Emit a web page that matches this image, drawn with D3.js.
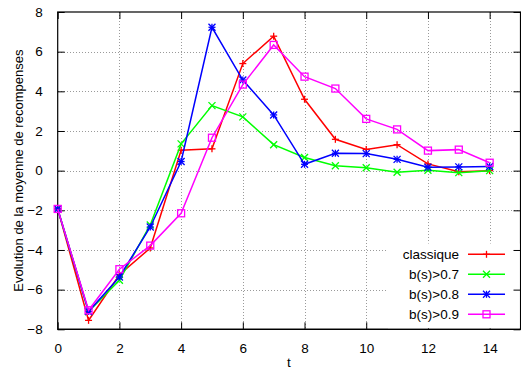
<!DOCTYPE html>
<html>
<head>
<meta charset="utf-8">
<script src="https://cdn.jsdelivr.net/npm/d3@7"></script>
<style>
  html, body { margin: 0; padding: 0; background: #fff; }
  svg { display: block; font-family: "Liberation Sans", Arial, Helvetica, sans-serif; }
</style>
</head>
<body>
<svg id="chart" width="521" height="369"></svg>
<script>
// Time steps
const steps = [0, 1, 2, 3, 4, 5, 6, 7, 8, 9, 10, 11, 12, 13, 14];

// Mean reward per step for each selection rule
const classique = [-1.93, -7.55, -5.25, -3.9, 1.03, 1.1, 5.4, 6.78, 3.6, 1.58, 1.07, 1.31, 0.34, -0.05, 0.0];
const b07 = [-1.93, -7.1, -5.53, -2.74, 1.35, 3.28, 2.71, 1.31, 0.66, 0.25, 0.15, -0.08, 0.02, -0.1, 0.0];
const b08 = [-1.93, -7.1, -5.36, -2.84, 0.46, 7.23, 4.57, 2.81, 0.32, 0.88, 0.86, 0.57, 0.17, 0.19, 0.21];
const b09 = [-1.93, -7.04, -4.97, -3.78, -2.15, 1.66, 4.34, 6.34, 4.74, 4.14, 2.61, 2.08, 1.01, 1.06, 0.4];

const seriesNames = ["classique", "b(s)>0.7", "b(s)>0.8", "b(s)>0.9"];
const seriesColors = ["#ff0000", "#00ff00", "#0000ff", "#ff00ff"];
const seriesMarkers = ["plus", "cross", "star", "square"];
const seriesValues = [classique, b07, b08, b09];

const xTicks = [0, 2, 4, 6, 8, 10, 12, 14];
const yTicks = [-8, -6, -4, -2, 0, 2, 4, 6, 8];

const svg = d3.select("#chart");
const plotLeft = 57.7, plotRight = 520.5, plotTop = 12, plotBottom = 329.3;

const x = d3.scaleLinear().domain([0, 15]).range([plotLeft, plotRight]);
const y = d3.scaleLinear().domain([-8, 8]).range([plotBottom, plotTop]);

// Legend area (grid is hidden behind it)
const legendBox = { x0: 388, y0: 243.5, x1: plotRight, y1: plotBottom };

// Grid
const grid = svg.append("g")
  .attr("stroke", "#9a9a9a").attr("stroke-width", 1)
  .attr("stroke-dasharray", "1,2").attr("shape-rendering", "crispEdges");
xTicks.filter(t => t > 0).forEach(t => {
  const px = Math.round(x(t)) + 0.5;
  const inLegend = px > legendBox.x0;
  grid.append("line").attr("x1", px).attr("x2", px)
    .attr("y1", plotTop).attr("y2", inLegend ? legendBox.y0 : plotBottom);
});
yTicks.filter(t => t > -8 && t < 8).forEach(t => {
  const py = Math.round(y(t)) + 0.5;
  const inLegend = py > legendBox.y0;
  grid.append("line").attr("y1", py).attr("y2", py)
    .attr("x1", plotLeft).attr("x2", inLegend ? legendBox.x0 : plotRight);
});

// Axes with inward ticks, mirrored on the opposite sides
const tickLen = 7;
const axisBottom = d3.axisBottom(x).tickValues(xTicks).tickSizeInner(-tickLen).tickSizeOuter(0).tickPadding(14);
const axisTop = d3.axisTop(x).tickValues(xTicks).tickSizeInner(-tickLen).tickSizeOuter(0).tickFormat("");
const axisLeft = d3.axisLeft(y).tickValues(yTicks).tickSizeInner(-tickLen).tickSizeOuter(0).tickPadding(15);
const axisRight = d3.axisRight(y).tickValues(yTicks).tickSizeInner(-tickLen).tickSizeOuter(0).tickFormat("");

function styleAxis(g) {
  g.select(".domain").remove();
  g.selectAll("line").attr("stroke", "#000");
  g.selectAll("text").attr("fill", "#000").attr("font-size", "13.5px")
    .attr("font-family", "'Liberation Sans', Arial, sans-serif");
}
svg.append("g").attr("transform", `translate(0,${plotBottom})`).call(axisBottom).call(styleAxis);
svg.append("g").attr("transform", `translate(0,${plotTop})`).call(axisTop).call(styleAxis);
svg.append("g").attr("transform", `translate(${plotLeft},0)`).call(axisLeft).call(styleAxis);

// Frame
svg.append("rect").attr("x", plotLeft).attr("y", plotTop)
  .attr("width", plotRight - plotLeft).attr("height", plotBottom - plotTop)
  .attr("fill", "none").attr("stroke", "#000").attr("stroke-width", 1.2);

// Axis titles
svg.append("text").attr("x", 289).attr("y", 367).attr("text-anchor", "middle")
  .attr("font-size", "13.5px").text("t");
svg.append("text")
  .attr("transform", `translate(23,${(plotTop + plotBottom) / 2}) rotate(-90)`)
  .attr("text-anchor", "middle").attr("font-size", "13px")
  .text("Evolution de la moyenne de recompenses");

// Point markers in gnuplot style
function marker(g, kind, cx, cy, color) {
  const s = 3.5;
  const seg = (x1, y1, x2, y2) => g.append("line")
    .attr("x1", cx + x1).attr("y1", cy + y1).attr("x2", cx + x2).attr("y2", cy + y2)
    .attr("stroke", color).attr("stroke-width", 1.3);
  if (kind === "plus" || kind === "star") { seg(-s, 0, s, 0); seg(0, -s, 0, s); }
  if (kind === "cross" || kind === "star") { seg(-s, -s, s, s); seg(-s, s, s, -s); }
  if (kind === "square") {
    g.append("rect").attr("x", cx - s).attr("y", cy - s).attr("width", 2 * s).attr("height", 2 * s)
      .attr("fill", "none").attr("stroke", color).attr("stroke-width", 1.3);
  }
}

const lineGen = d3.line().x((d, i) => x(steps[i])).y(d => y(d));

seriesValues.forEach((vals, k) => {
  const g = svg.append("g");
  g.append("path").datum(vals).attr("d", lineGen)
    .attr("fill", "none").attr("stroke", seriesColors[k]).attr("stroke-width", 1.5)
    .attr("stroke-linejoin", "miter");
  vals.forEach((v, i) => marker(g, seriesMarkers[k], x(steps[i]), y(v), seriesColors[k]));
});

// Legend
const lg = svg.append("g");
lg.append("rect").attr("x", legendBox.x0).attr("y", legendBox.y0)
  .attr("width", legendBox.x1 - legendBox.x0 - 1).attr("height", legendBox.y1 - legendBox.y0 - 1)
  .attr("fill", "#fff");
seriesNames.forEach((name, k) => {
  const ry = 254.3 + 20 * k;
  lg.append("text").attr("x", 459).attr("y", ry).attr("dy", "0.35em")
    .attr("text-anchor", "end").attr("font-size", "13.5px").text(name);
  lg.append("line").attr("x1", 468).attr("x2", 505).attr("y1", ry).attr("y2", ry)
    .attr("stroke", seriesColors[k]).attr("stroke-width", 1.5);
  marker(lg, seriesMarkers[k], 486.5, ry, seriesColors[k]);
});
// Right-hand ticks drawn last so they stay visible over the legend
svg.append("g").attr("transform", `translate(${plotRight},0)`).call(axisRight).call(styleAxis);
svg.append("line").attr("x1", plotLeft).attr("x2", plotRight).attr("y1", plotBottom).attr("y2", plotBottom)
  .attr("stroke", "#000").attr("stroke-width", 1.2);
</script>
</body>
</html>
